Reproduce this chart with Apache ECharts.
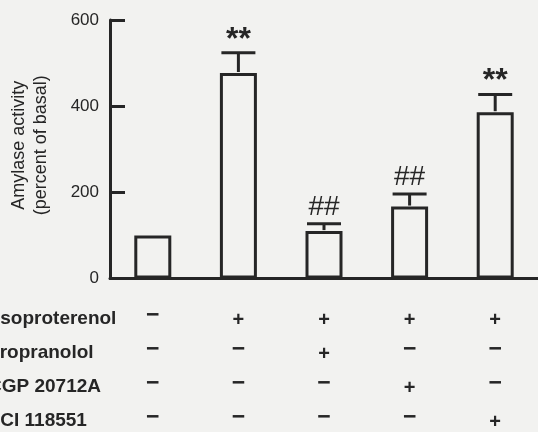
<!DOCTYPE html>
<html><head><meta charset="utf-8">
<script src="https://cdn.jsdelivr.net/npm/echarts@6/dist/echarts.min.js"></script>
<style>html,body{margin:0;padding:0;background:#f2f2f0}#c{width:538px;height:432px}</style>
</head><body><div id="c"></div>
<script>
// ---- data ----
const groups = ['Basal', 'Isoproterenol', 'Isoproterenol + Propranolol', 'Isoproterenol + CGP 20712A', 'Isoproterenol + ICI 118551'];
const amylase = [100, 477, 110, 167, 386];
const sem = [0, 47, 17, 29, 41];
const significance = ['', '**', '##', '##', '**'];
const treatments = ['Isoproterenol', 'Propranolol', 'CGP 20712A', 'ICI 118551'];
const isoproterenol = ['−', '+', '+', '+', '+'];
const propranolol   = ['−', '−', '+', '−', '−'];
const cgp20712a     = ['−', '−', '−', '+', '−'];
const ici118551     = ['−', '−', '−', '−', '+'];
const treatmentRows = [isoproterenol, propranolol, cgp20712a, ici118551];
const yMin = 0, yMax = 600, yStep = 200;
const yTitle = 'Amylase activity\n(percent of basal)';

// ---- style ----
const ink = '#262626';
const FONT = "'Liberation Sans', Arial, Helvetica, sans-serif";
const rowLabelX = [-5, -13, -12, -5];
const rowLabelY = [319, 353, 387, 421];

const chart = echarts.init(document.getElementById('c'), null, {renderer: 'canvas'});
chart.setOption({
  backgroundColor: '#f2f2f0',
  animation: false,
  grid: {left: 107, top: 20, width: 434, height: 261, containLabel: false},
  xAxis: {
    type: 'category',
    data: groups,
    axisLine: {lineStyle: {color: ink, width: 3}},
    axisTick: {show: false},
    axisLabel: {
      interval: 0,
      margin: 20,
      formatter: (v, idx) => treatmentRows.map(r => r[idx] === '+' ? '{p|+}' : '{m|−}').join('\n'),
      rich: {
        p: {fontFamily: FONT, fontSize: 20, fontWeight: 'bold', color: ink, lineHeight: 34, padding: [9, 0, 0, 0]},
        m: {fontFamily: FONT, fontSize: 23, fontWeight: 'bold', color: ink, lineHeight: 34}
      }
    }
  },
  yAxis: {
    type: 'value',
    min: yMin, max: yMax, interval: yStep,
    axisLine: {show: true, lineStyle: {color: ink, width: 3}},
    axisTick: {show: true, inside: true, length: 15, lineStyle: {color: ink, width: 3}},
    splitLine: {show: false},
    axisLabel: {fontFamily: FONT, fontSize: 17, color: ink, margin: 11},
    name: yTitle,
    nameLocation: 'middle',
    nameRotate: 90,
    nameGap: 58,
    nameTextStyle: {fontFamily: FONT, fontSize: 18, color: ink, lineHeight: 22, padding: [0, 0, 0, 8]}
  },
  series: [
    {
      type: 'bar',
      data: amylase,
      barWidth: 37,
      itemStyle: {color: '#f2f2f0', borderColor: ink, borderWidth: 3},
      z: 2
    },
    {
      type: 'custom',
      data: amylase.map((v, i) => [i, v, sem[i]]),
      encode: {x: 0, y: 1},
      z: 3,
      renderItem: (params, api) => {
        const i = api.value(0), v = api.value(1), e = api.value(2);
        const base = api.coord([i, v]);
        const top = api.coord([i, v + e]);
        const children = [];
        if (e > 0) {
          children.push({type: 'line', shape: {x1: base[0], y1: base[1] - 1, x2: top[0], y2: top[1]}, style: {stroke: ink, lineWidth: 3}});
          children.push({type: 'line', shape: {x1: top[0] - 17, y1: top[1], x2: top[0] + 17, y2: top[1]}, style: {stroke: ink, lineWidth: 3}});
        }
        const mark = significance[params.dataIndex];
        if (mark) {
          const star = mark === '**';
          children.push({
            type: 'text',
            x: top[0], y: star ? top[1] + 3 : top[1] - 3,
            style: {
              text: mark,
              font: (star ? 'bold 32px ' : '28px ') + FONT,
              fill: ink,
              align: 'center', verticalAlign: 'bottom',
              textAlign: 'center', textVerticalAlign: 'bottom'
            }
          });
        }
        return {type: 'group', children};
      }
    }
  ],
  graphic: treatments.map((t, k) => ({
    type: 'text',
    x: rowLabelX[k], y: rowLabelY[k],
    style: {
      text: t,
      font: 'bold 19px ' + FONT,
      fill: ink,
      align: 'left', verticalAlign: 'middle',
      textAlign: 'left', textVerticalAlign: 'middle'
    }
  }))
});
</script>
</body></html>
